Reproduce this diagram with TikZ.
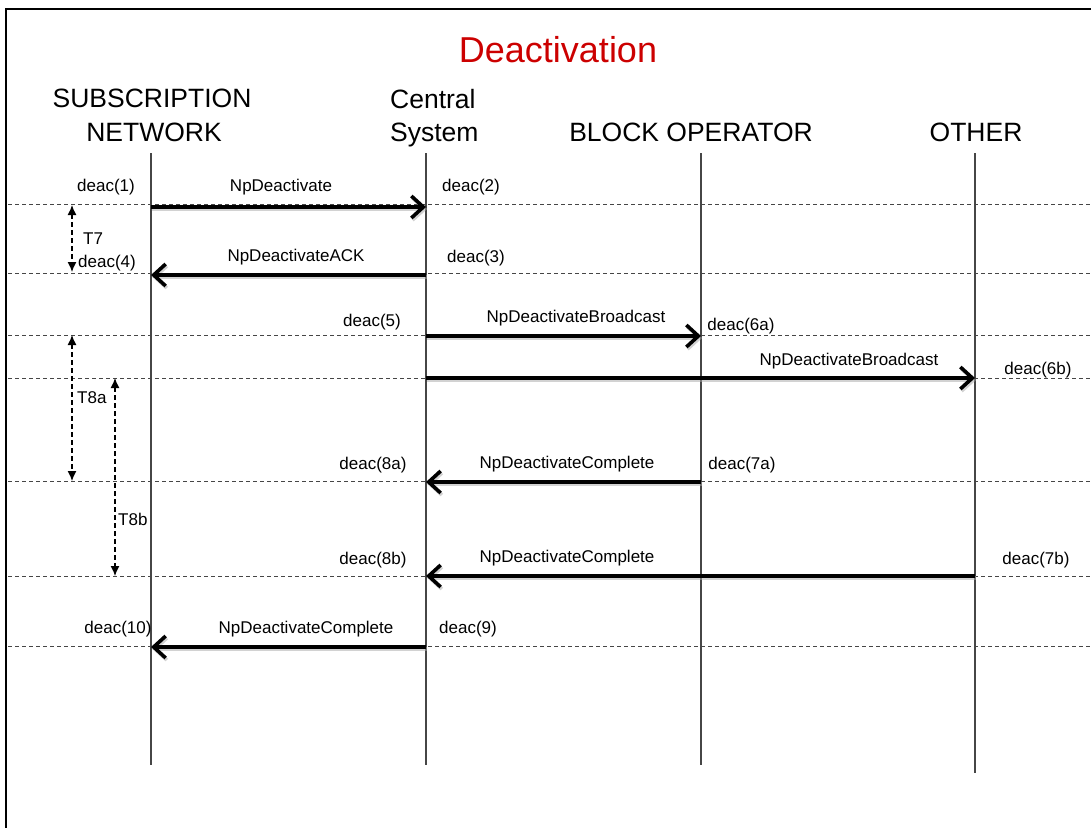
\documentclass[tikz,border=0pt]{standalone}
\usepackage{fontspec}
\setmainfont{Liberation Sans}
\usetikzlibrary{arrows.meta}
\definecolor{titlered}{RGB}{204,0,0}
\definecolor{lifegray}{RGB}{70,70,70}
\begin{document}
\begin{tikzpicture}[x=1pt,y=-1pt,
  title/.style={font=\fontsize{36}{40}\selectfont, text=titlered},
  head/.style={font=\fontsize{26.5}{33}\selectfont, inner sep=0pt},
  lbl/.style={font=\fontsize{17}{20}\selectfont, inner sep=0pt},
  life/.style={draw=lifegray, line width=1.1pt},
  sep/.style={draw=lifegray, line width=0.9pt, dash pattern=on 4pt off 3pt},
  msg/.style={line width=3.6pt, -{Straight Barb[length=12pt,width=22pt]}},
  shade/.style={msg, draw=black!35, opacity=0.5, transform canvas={shift={(1.2pt,-2pt)}}},
  timer/.style={line width=1.3pt, dash pattern=on 5pt off 3pt, {Latex[length=10pt,width=9pt]}-{Latex[length=10pt,width=9pt]}},
  frame/.style={line width=2pt}
]
\useasboundingbox (0,0) rectangle (1091,828);
% frame
\coordinate (ftl) at (6,9);
\coordinate (ftr) at (1091,9);
\coordinate (fbl) at (6,828);
\draw[frame] (ftr) -- (ftl) -- (fbl);

% title and headers
\node[title] (ttl) at (558,50) {Deactivation};
\node[head, anchor=base] (h1a) at (152,107) {SUBSCRIPTION};
\node[head, anchor=base] (h1b) at (154,141) {NETWORK};
\node[head, anchor=base west] (h2a) at (390,108) {Central};
\node[head, anchor=base west] (h2b) at (390,141) {System};
\node[head, anchor=base] (h3) at (691,141) {BLOCK OPERATOR};
\node[head, anchor=base] (h4) at (976,141) {OTHER};

% separators
\foreach \yy/\nm in {204/s1,273/s2,335/s3,378/s4,481/s5,576/s6,646/s7}{
  \coordinate (\nm L) at (8,\yy);
  \coordinate (\nm R) at (1091,\yy);
  \draw[sep] (\nm L) -- (\nm R);
}

% lifelines
\coordinate (snT) at (151,153); \coordinate (snB) at (151,765);
\coordinate (csT) at (426,153); \coordinate (csB) at (426,765);
\coordinate (boT) at (701,153); \coordinate (boB) at (701,765);
\coordinate (otT) at (975,153); \coordinate (otB) at (975,773);
\draw[life] (snT) -- (snB);
\draw[life] (csT) -- (csB);
\draw[life] (boT) -- (boB);
\draw[life] (otT) -- (otB);

% message end points
\coordinate (m1a) at (151,207); \coordinate (m1b) at (426,207);
\coordinate (m2a) at (426,275); \coordinate (m2b) at (151,275);
\coordinate (m3a) at (426,336); \coordinate (m3b) at (701,336);
\coordinate (m4a) at (426,378); \coordinate (m4b) at (975,378);
\coordinate (m5a) at (701,482); \coordinate (m5b) at (426,482);
\coordinate (m6a) at (975,576); \coordinate (m6b) at (426,576);
\coordinate (m7a) at (426,647); \coordinate (m7b) at (151,647);

\foreach \p/\q in {m1a/m1b,m2a/m2b,m3a/m3b,m4a/m4b,m5a/m5b,m6a/m6b,m7a/m7b}{
  \draw[shade] (\p) -- (\q);
}
\foreach \p/\q in {m1a/m1b,m2a/m2b,m3a/m3b,m4a/m4b,m5a/m5b,m6a/m6b,m7a/m7b}{
  \draw[msg] (\p) -- (\q);
}

% message labels
\node[lbl] (n1) at (281,187) {NpDeactivate};
\node[lbl] (n2) at (296,257) {NpDeactivateACK};
\node[lbl] (n3) at (576,318) {NpDeactivateBroadcast};
\node[lbl] (n4) at (849,361) {NpDeactivateBroadcast};
\node[lbl] (n5) at (567,464) {NpDeactivateComplete};
\node[lbl] (n6) at (567,558) {NpDeactivateComplete};
\node[lbl] (n7) at (306,629) {NpDeactivateComplete};

% state labels
\node[lbl] (d1) at (106,187) {deac(1)};
\node[lbl] (d2) at (471,187) {deac(2)};
\node[lbl] (d3) at (476,258) {deac(3)};
\node[lbl] (d4) at (107,263) {deac(4)};
\node[lbl] (d5) at (372,322) {deac(5)};
\node[lbl] (d6a) at (741,326) {deac(6a)};
\node[lbl] (d6b) at (1038,370) {deac(6b)};
\node[lbl] (d7a) at (742,465) {deac(7a)};
\node[lbl] (d8a) at (373,465) {deac(8a)};
\node[lbl] (d7b) at (1036,560) {deac(7b)};
\node[lbl] (d8b) at (373,560) {deac(8b)};
\node[lbl] (d9) at (468,629) {deac(9)};
\node[lbl] (d10) at (118,629) {deac(10)};

% timers
\coordinate (t7a) at (72,205); \coordinate (t7b) at (72,272);
\coordinate (t8aa) at (72,335); \coordinate (t8ab) at (72,481);
\coordinate (t8ba) at (115,378); \coordinate (t8bb) at (115,576);
\draw[timer] (t7a) -- (t7b);
\draw[timer] (t8aa) -- (t8ab);
\draw[timer] (t8ba) -- (t8bb);
\node[lbl, anchor=west] (T7) at (83,239) {T7};
\node[lbl, anchor=west] (T8a) at (77,398) {T8a};
\node[lbl, anchor=west] (T8b) at (118,519) {T8b};
\end{tikzpicture}
\end{document}
